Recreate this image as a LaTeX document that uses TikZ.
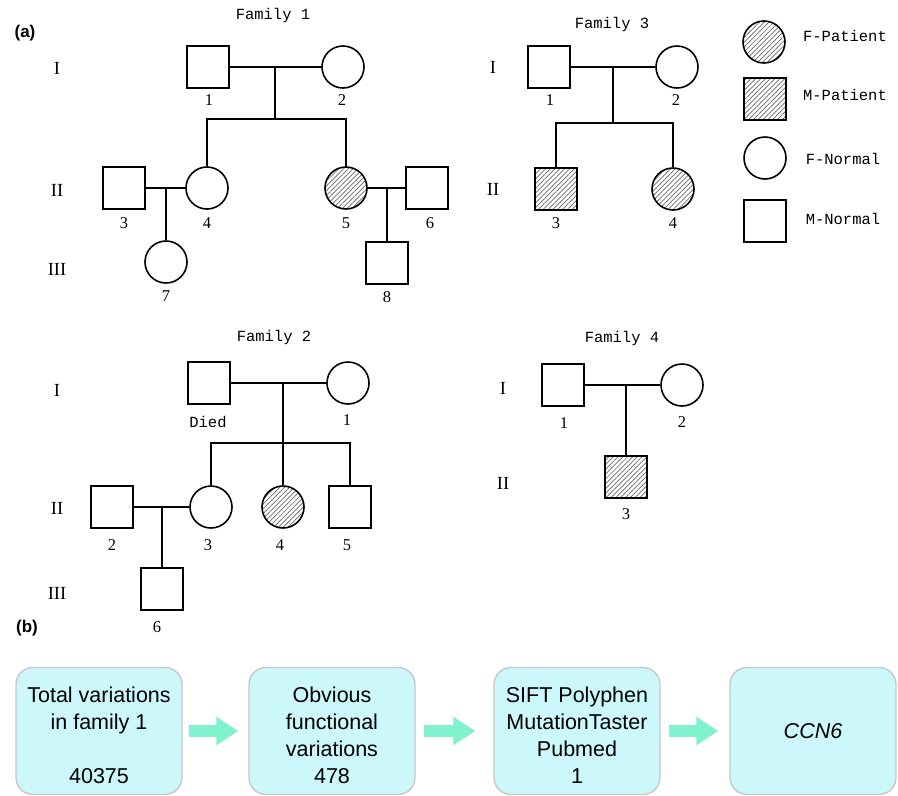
\documentclass[tikz,border=0pt]{standalone}
\usepackage{fontspec}
\setmainfont{Liberation Serif}
\setsansfont{Liberation Sans}
\newfontfamily\monofam{Liberation Mono}
\usetikzlibrary{positioning,patterns.meta,arrows.meta}
\definecolor{boxcyan}{HTML}{CCF8FC}
\definecolor{boxedge}{HTML}{C8C8C8}
\definecolor{flowmint}{HTML}{80F2CE}

\begin{document}
\begin{tikzpicture}[
    x=1pt, y=-1pt,
    male/.style={rectangle,draw,line width=1.6pt,minimum size=42pt,inner sep=0pt},
    female/.style={circle,draw,line width=1.6pt,minimum size=42pt,inner sep=0pt},
    ill/.style={pattern={Lines[angle=45,distance=3.4pt,line width=0.7pt]},pattern color=black!60},
    line/.style={line width=1.6pt},
    title/.style={font=\monofam\fontsize{15.5}{17}\selectfont},
    num/.style={font=\fontsize{16.5}{18}\selectfont,inner sep=0pt},
    gen/.style={font=\fontsize{18.5}{20}\selectfont,inner sep=0pt},
    tag/.style={font=\sffamily\bfseries\fontsize{17}{19}\selectfont},
    stepbox/.style={rectangle,rounded corners=17pt,fill=boxcyan,draw=boxedge,line width=1.4pt,
        minimum width=166pt,minimum height=127pt,align=center,font=\sffamily\fontsize{21.5}{27}\selectfont},
    flow/.style={flowmint,line width=12pt,-{Triangle[width=27pt,length=22pt]}}
]
\useasboundingbox (0,0) rectangle (898,796);

\node[tag] (ta) at (25,33) {(a)};
\node[tag] (tb) at (27,628) {(b)};

% Family 1
\node[title] (t1) at (273,15) {Family 1};
\node[gen] (g1a) at (57,68) {I};
\node[gen] (g1b) at (57,190) {II};
\node[gen] (g1c) at (57,269) {III};

\node[male] (f1p1) at (208,67) {};
\node[female] (f1p2) at (343,67) {};
\coordinate (f1m) at (275,67);
\coordinate (f1s) at (275,119);
\draw[line] (f1p1) -- (f1p2);
\draw[line] (f1m) -- (f1s);

\node[male] (f1p3) at (124,188) {};
\node[female] (f1p4) at (207,188) {};
\node[female,ill] (f1p5) at (346,188) {};
\node[male] (f1p6) at (427,188) {};
\draw[line] (f1s) -| (f1p4);
\draw[line] (f1s) -| (f1p5);

\draw[line] (f1p3) -- (f1p4);
\draw[line] (f1p5) -- (f1p6);
\coordinate (f1m2) at (166,188);
\coordinate (f1m3) at (387,188);
\node[female] (f1p7) at (166,262) {};
\node[male] (f1p8) at (387,263) {};
\draw[line] (f1m2) -- (f1p7);
\draw[line] (f1m3) -- (f1p8);

\node[num] (f1n1) at (209,100) {1};
\node[num] (f1n2) at (342,100) {2};
\node[num] (f1n3) at (124,223) {3};
\node[num] (f1n4) at (207,223) {4};
\node[num] (f1n5) at (346,223) {5};
\node[num] (f1n6) at (430,223) {6};
\node[num] (f1n7) at (166,296) {7};
\node[num] (f1n8) at (387,297) {8};

% Family 3
\node[title] (t3) at (612,24) {Family 3};
\node[gen] (g3a) at (493,67) {I};
\node[gen] (g3b) at (493,189) {II};

\node[male] (f3p1) at (549,67) {};
\node[female] (f3p2) at (677,67) {};
\coordinate (f3m) at (613,67);
\coordinate (f3s) at (613,123);
\draw[line] (f3p1) -- (f3p2);
\draw[line] (f3m) -- (f3s);
\node[male,ill] (f3p3) at (556,189) {};
\node[female,ill] (f3p4) at (673,189) {};
\draw[line] (f3s) -| (f3p3);
\draw[line] (f3s) -| (f3p4);

\node[num] (f3n1) at (550,100) {1};
\node[num] (f3n2) at (676,100) {2};
\node[num] (f3n3) at (556,223) {3};
\node[num] (f3n4) at (673,223) {4};

% Legend
\node[female,ill] (lg1) at (764,42) {};
\node[male,ill] (lg2) at (765,99) {};
\node[female] (lg3) at (765,158) {};
\node[male] (lg4) at (765,221) {};
\node[title] (lt1) at (845,36) {F-Patient};
\node[title] (lt2) at (845,95) {M-Patient};
\node[title] (lt3) at (843,159) {F-Normal};
\node[title] (lt4) at (843,219) {M-Normal};

% Family 2
\node[title] (t2) at (274,337) {Family 2};
\node[gen] (g2a) at (57,390) {I};
\node[gen] (g2b) at (57,508) {II};
\node[gen] (g2c) at (57,593) {III};

\node[male] (f2p0) at (209,383) {};
\node[female] (f2p1) at (348,383) {};
\coordinate (f2m) at (283,383);
\coordinate (f2s) at (283,443);
\draw[line] (f2p0) -- (f2p1);
\draw[line] (f2m) -- (f2s);

\node[male] (f2p2) at (112,507) {};
\node[female] (f2p3) at (211,507) {};
\node[female,ill] (f2p4) at (283,507) {};
\node[male] (f2p5) at (350,507) {};
\draw[line] (f2s) -| (f2p3);
\draw[line] (f2s) -- (f2p4);
\draw[line] (f2s) -| (f2p5);

\draw[line] (f2p2) -- (f2p3);
\coordinate (f2m2) at (162,507);
\node[male] (f2p6) at (162,589) {};
\draw[line] (f2m2) -- (f2p6);

\node[title] (f2n0) at (208,422) {Died};
\node[num] (f2n1) at (347,420) {1};
\node[num] (f2n2) at (112,545) {2};
\node[num] (f2n3) at (208,545) {3};
\node[num] (f2n4) at (280,545) {4};
\node[num] (f2n5) at (347,545) {5};
\node[num] (f2n6) at (157,627) {6};

% Family 4
\node[title] (t4) at (622,338) {Family 4};
\node[gen] (g4a) at (503,388) {I};
\node[gen] (g4b) at (503,483) {II};

\node[male] (f4p1) at (563,385) {};
\node[female] (f4p2) at (682,385) {};
\coordinate (f4m) at (626,385);
\draw[line] (f4p1) -- (f4p2);
\node[male,ill] (f4p3) at (626,477) {};
\draw[line] (f4m) -- (f4p3);

\node[num] (f4n1) at (564,423) {1};
\node[num] (f4n2) at (682,422) {2};
\node[num] (f4n3) at (626,514) {3};

% (b) filtering steps
\node[stepbox] (b1) at (99,731) {\rule{0pt}{24pt}Total variations\\in family 1\\[27pt]40375};
\node[stepbox] (b2) at (332,731) {\rule{0pt}{24pt}Obvious\\functional\\variations\\478};
\node[stepbox] (b3) at (577,731) {\rule{0pt}{24pt}SIFT Polyphen\\MutationTaster\\Pubmed\\1};
\node[stepbox] (b4) at (813,731) {\itshape CCN6};

\draw[flow,shorten <=6pt,shorten >=10pt] (b1) -- (b2);
\draw[flow,shorten <=8pt,shorten >=18pt] (b2) -- (b3);
\draw[flow,shorten <=8pt,shorten >=11pt] (b3) -- (b4);

\end{tikzpicture}
\end{document}
